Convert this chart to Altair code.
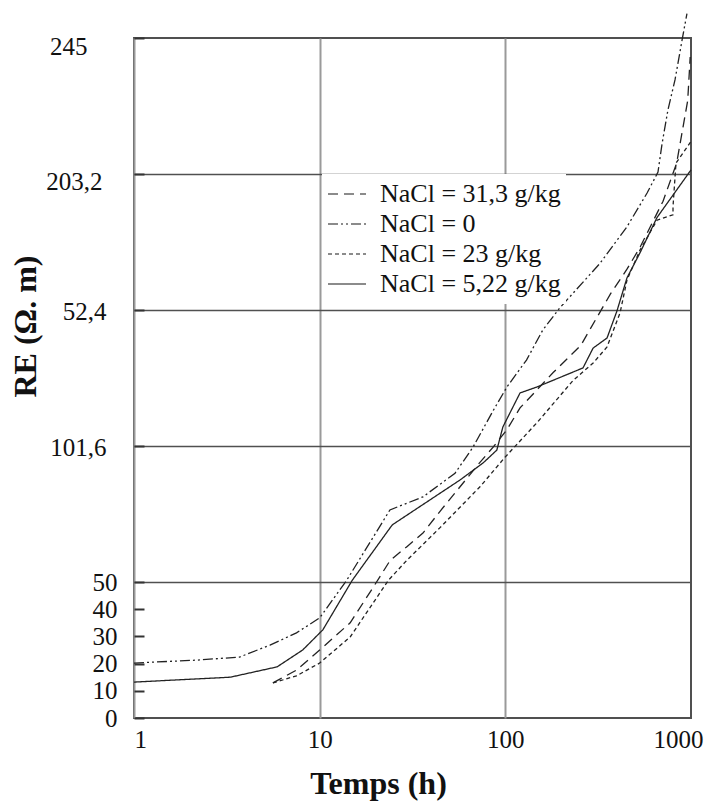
import altair as alt
import pandas as pd

# ---- data (time in h, RE in the figure's vertical units) ----
names = ["NaCl = 31,3 g/kg", "NaCl = 0", "NaCl = 23 g/kg", "NaCl = 5,22 g/kg"]

t_313 = [5.6, 7.5, 10, 14.6, 19.4, 24, 29.5, 36, 44.5, 73, 86, 102, 120, 181, 255, 369, 452, 531, 707, 837, 960, 990]
re_313 = [12.9, 17.6, 25, 35, 48, 58, 63, 68, 76, 94, 99.6, 106, 114, 127, 137, 156, 165, 173, 190, 204, 227, 243]

t_0 = [1, 2.2, 3.7, 5.4, 7.5, 10, 14, 23.9, 36, 53.6, 67, 86, 102, 130, 159, 196, 322, 451, 580, 664, 698, 751, 820, 894, 951]
re_0 = [20.2, 21.3, 22.4, 26.8, 31.3, 36.8, 50.7, 76.5, 81.3, 90, 99.6, 113, 121.7, 131.6, 142.6, 150.7, 167, 180.5, 193, 200.7, 211, 223.5, 234.6, 249, 259]

t_23 = [5.6, 7.5, 10, 14.6, 23.5, 29.5, 44.5, 73, 100, 150, 231, 297, 353, 415, 452, 531, 656, 800, 800, 830, 1000]
re_23 = [12.9, 15.5, 20.2, 29.8, 50.7, 58, 70, 85, 96, 109, 124, 130.5, 136.4, 149, 161, 172, 183, 185, 188, 204, 212]

t_522 = [1, 3.3, 5.9, 8.1, 10.4, 15, 24.6, 57, 76, 90, 97, 120, 148, 262, 297, 353, 399, 452, 531, 656, 1000]
re_522 = [13.2, 15, 18.8, 25, 32.4, 50.7, 71, 87.5, 93.8, 98.5, 107, 119.5, 121.7, 128.7, 136, 139.7, 149.6, 161.8, 171, 184, 201.5]

x_ticks = [1, 10, 100, 1000]
y_ticks = [0, 10, 20, 30, 40, 50, 100, 150, 200, 250]
y_tick_labels = ["0", "10", "20", "30", "40", "50", "101,6", "52,4", "203,2", "245"]

# ---- build table ----
rows = []
for name, ts, vs in zip(names, [t_313, t_0, t_23, t_522], [re_313, re_0, re_23, re_522]):
    for i, (t, v) in enumerate(zip(ts, vs)):
        rows.append({"serie": name, "t": t, "re": v, "ordre": i})
df = pd.DataFrame(rows)

# ---- styles ----
SERIF = "Liberation Serif, Times New Roman, serif"
dashes = [[10, 6], [10, 3, 2, 3, 2, 3], [4, 3], [1, 0]]
label_of = dict(zip(y_ticks, y_tick_labels))
x_scale = alt.Scale(type="log", domain=[1, 1000], nice=False)
y_scale = alt.Scale(domain=[0, 250], nice=False, zero=False)


def x_axis(vals, title=None, flush_offset=0, grid=True):
    kw = dict(
        values=list(vals), format="d", orient="bottom", grid=grid, gridColor="#9a9a9a", gridWidth=2,
        ticks=False, domain=False, labelFont=SERIF, labelFontSize=25, labelColor="#111",
        labelPadding=9, labelBaseline="top", labelFlush=True, labelFlushOffset=flush_offset,
    )
    if title:
        kw.update(title=title, titleFont=SERIF, titleFontSize=32, titleFontWeight="bold", titleColor="#111",
                  titleX=244, titleY=75, titleBaseline="alphabetic", titleAlign="center")
    else:
        kw.update(title=None)
    return alt.Axis(**kw)


def y_axis(vals, pad, dy=0, grid_vals=(), title=None):
    expr = "{" + ", ".join("'%s': '%s'" % (v, label_of[v]) for v in vals) + "}[datum.value]"
    test = " || ".join("datum.value == %s" % g for g in grid_vals) or "false"
    kw = dict(
        values=list(vals), labelExpr=expr, orient="left", grid=True, gridColor="#505050", gridWidth=1.6,
        gridOpacity={"condition": {"test": test, "value": 1}, "value": 0},
        tickSize={"expr": "-10"}, tickColor="#333", tickWidth=2, domain=False,
        labelFont=SERIF, labelFontSize=25, labelColor="#111", labelPadding=pad, labelAlign="right",
        labelBaseline="middle", labelOffset=dy,
    )
    if title:
        kw.update(title=title, titleFont=SERIF, titleFontSize=32, titleFontWeight="bold", titleColor="#111",
                  titleX=-99, titleY=288, titleBaseline="alphabetic", titleAlign="center", titleAngle=-90)
    else:
        kw.update(title=None)
    return alt.Axis(**kw)


legend = alt.Legend(
    title=None, orient="none", legendX=188, legendY=136, symbolType="stroke", symbolSize=1444,
    symbolStrokeWidth=1.5, symbolStrokeColor="#666", labelFont=SERIF, labelFontSize=26,
    labelColor="#111", labelOffset=13, rowPadding=0, clipHeight=30, padding=5, fillColor="white",
    labelLimit=400,
)

lines = alt.Chart(df).mark_line(strokeWidth=1.3, color="#222", clip=False).encode(
    x=alt.X("t:Q", scale=x_scale, axis=x_axis(x_ticks[:3], "Temps (h)")),
    y=alt.Y("re:Q", scale=y_scale, axis=y_axis(y_ticks[:6], 27, 0, [50], "RE (Ω. m)")),
    strokeDash=alt.StrokeDash("serie:N", scale=alt.Scale(domain=names, range=dashes), legend=legend),
    order="ordre:Q",
)

# extra axes sharing the same scales (labels placed like the original)
extra = []
for k, (vals, pad, dy, grid) in enumerate([([100, 150], 38, 1, [100, 150]), ([200], 42, 7, [200]), ([250], 57, 8, [])]):
    xa = x_axis(x_ticks[3:], None, 12, False) if k == 0 else None
    extra.append(
        alt.Chart(df).mark_line(opacity=0).encode(
            x=alt.X("t:Q", scale=x_scale, axis=xa),
            y=alt.Y("re:Q", scale=y_scale, axis=y_axis(vals, pad, dy, grid)),
            detail="serie:N",
            order="ordre:Q",
        )
    )

chart = alt.layer(lines, *extra).resolve_axis(x="independent", y="independent").properties(
    width=557, height=680,
    padding={"left": 134, "top": 38, "right": 16, "bottom": 85},
    autosize=alt.AutoSizeParams(type="none"),
    background="white",
).configure_view(stroke="#505050", strokeWidth=2)

chart.save("out.html", embed_options={"renderer": "svg", "actions": False})
